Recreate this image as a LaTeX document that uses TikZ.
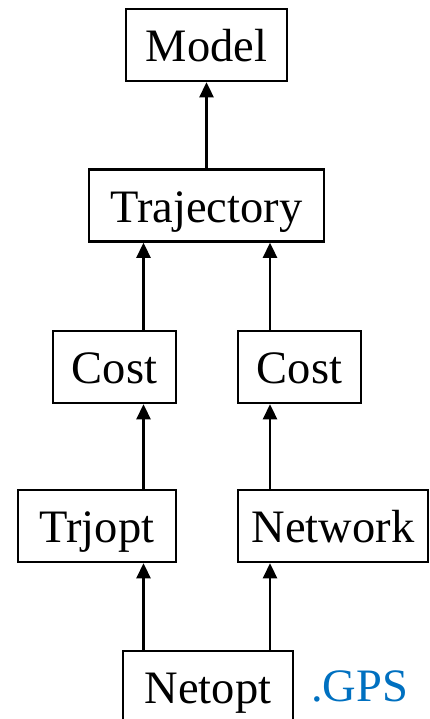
\documentclass[tikz,border=0pt]{standalone}
\usepackage{fontspec}
\setmainfont{Liberation Serif}
\usetikzlibrary{arrows.meta,positioning}
\definecolor{gpsblue}{RGB}{0,112,192}

\begin{document}
\begin{tikzpicture}[x=1pt, y=1pt, >={Triangle[length=15pt,width=14pt]},
	every node/.style={font=\fontsize{46.5}{50}\selectfont},
	box/.style={draw, line width=2.6pt, inner sep=0pt, minimum height=72pt,
		text height=44pt, text depth=10pt},
	up/.style={->, line width=2.6pt}
	]
\useasboundingbox (0,0) rectangle (429,719);
% lanes for the two columns of arrows
\coordinate (laneL) at (143.5,0);
\coordinate (laneR) at (270,0);
\node[box, minimum width=161pt] (model) at (206.5,674)  {Model};
\node[box, minimum width=235pt] (traj)  at (206.5,513.5) {Trajectory};
\node[box, minimum width=123pt] (costL) at (114.5,352) {Cost};
\node[box, minimum width=123pt] (costR) at (299.5,352) {Cost};
\node[box, minimum width=158pt] (trjopt) at (97,193)   {Trjopt};
\node[box, minimum width=190pt] (network) at (333,193) {Network};
\node[box, minimum width=170pt] (netopt) at (208,32)   {Netopt};
\node[anchor=base west, inner sep=0pt, text=gpsblue] (gps) at (311,17) {.GPS};
\draw[up] (traj) -- (model);
\draw[up] (costL.north -| laneL) -- (traj.south -| laneL);
\draw[up] (costR.north -| laneR) -- (traj.south -| laneR);
\draw[up] (trjopt.north -| laneL) -- (costL.south -| laneL);
\draw[up] (network.north -| laneR) -- (costR.south -| laneR);
\draw[up] (netopt.north -| laneL) -- (trjopt.south -| laneL);
\draw[up] (netopt.north -| laneR) -- (network.south -| laneR);
\end{tikzpicture}
\end{document}
